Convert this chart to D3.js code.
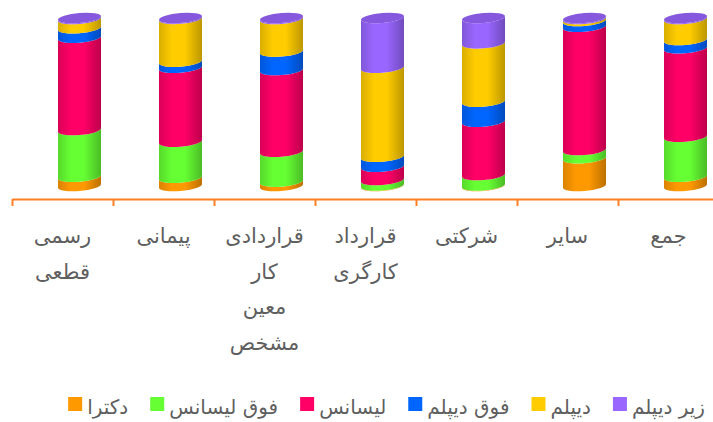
<!DOCTYPE html>
<html>
<head>
<meta charset="utf-8">
<script src="https://cdn.jsdelivr.net/npm/d3@7/dist/d3.min.js"></script>
<style>
  html, body { margin: 0; padding: 0; background: #fff; }
  svg { display: block; font-family: "DejaVu Sans", sans-serif; }
</style>
</head>
<body>
<svg id="chart" width="713" height="422"></svg>
<script>
// Employment types (left to right)
const categories = ["رسمی قطعی", "پیمانی", "قراردادی کار معین مشخص", "قرارداد کارگری", "شرکتی", "سایر", "جمع"];

// Share of each education level per employment type (percent)
const doctorate  = [5.5, 4.9, 2.6, 0.3, 0.3, 16.5, 5.5];   // دکترا
const masters    = [27.8, 21.5, 17.8, 3.3, 6.2, 4.9, 23.8]; // فوق لیسانس
const bachelor   = [55.0, 44.0, 48.6, 7.9, 31.8, 73.4, 52.7]; // لیسانس
const associate  = [5.6, 3.6, 11.0, 5.9, 11.9, 3.4, 4.9];   // فوق دیپلم
const diploma    = [5.5, 25.5, 19.4, 53.0, 34.7, 1.2, 12.5]; // دیپلم
const belowDipl  = [0.6, 0.5, 0.6, 29.6, 15.1, 0.6, 0.6];   // زیر دیپلم

// Series, bottom of the stack first
const seriesNames  = ["دکترا", "فوق لیسانس", "لیسانس", "فوق دیپلم", "دیپلم", "زیر دیپلم"];
const seriesValues = [doctorate, masters, bachelor, associate, diploma, belowDipl];
const seriesColors = ["#ff9900", "#66ff33", "#ff0066", "#0066ff", "#ffcc00", "#9966ff"];

const svg = d3.select("#chart");
const defs = svg.append("defs");

const rows = categories.map((c, i) => {
  const r = { cat: c };
  seriesNames.forEach((s, k) => { r[s] = seriesValues[k][i]; });
  return r;
});
const stacked = d3.stack().keys(seriesNames).offset(d3.stackOffsetExpand)(rows);

const x = d3.scaleBand().domain(categories).range([12, 719]).padding(0);
const y = d3.scaleLinear().domain([0, 1]).range([186, 18]);
const color = d3.scaleOrdinal().domain(seriesNames).range(seriesColors);

const rx = 21.5, ry = 5, depthShift = 17, tilt = -4.5;

// horizontal shading for the cylinder sides
seriesNames.forEach((s, k) => {
  const base = d3.color(seriesColors[k]);
  const g = defs.append("linearGradient").attr("id", "grad" + k)
    .attr("x1", 0).attr("x2", 1).attr("y1", 0).attr("y2", 0);
  g.append("stop").attr("offset", "0%").attr("stop-color", base.darker(0.45));
  g.append("stop").attr("offset", "30%").attr("stop-color", base);
  g.append("stop").attr("offset", "60%").attr("stop-color", base);
  g.append("stop").attr("offset", "100%").attr("stop-color", base.darker(0.85));
});

const cyl = svg.append("g").attr("class", "cylinders")
  .selectAll("g")
  .data(categories)
  .join("g")
  .attr("transform", c => `translate(${x(c) + x.bandwidth() / 2 + depthShift},0) skewY(${tilt})`);

function sidePath(y0, y1) {
  return `M${-rx},${y1} L${-rx},${y0} A${rx},${ry} 0 0 0 ${rx},${y0} L${rx},${y1} A${rx},${ry} 0 0 1 ${-rx},${y1} Z`;
}

stacked.forEach((layer, k) => {
  cyl.append("path")
    .attr("d", (c, i) => sidePath(y(layer[i][0]), y(layer[i][1])))
    .attr("fill", `url(#grad${k})`);
});

// top caps take the colour of the top segment
const topKey = seriesNames.length - 1;
cyl.append("ellipse")
  .attr("cx", 0).attr("cy", (c, i) => y(stacked[topKey][i][1]))
  .attr("rx", rx).attr("ry", ry)
  .attr("fill", d3.color(color(seriesNames[topKey])).darker(0.4));

// x axis with ticks on category boundaries
const xb = d3.scaleLinear().domain([0, categories.length]).range(x.range());
const axis = svg.append("g").attr("transform", "translate(0,199)")
  .call(d3.axisBottom(xb).ticks(categories.length).tickFormat("").tickSizeInner(7).tickSizeOuter(0));
axis.select(".domain").attr("stroke", "#ff7f27").attr("stroke-width", 2);
axis.selectAll(".tick line").attr("stroke", "#ff7f27").attr("stroke-width", 2);

// category labels, one word per line
svg.append("g").selectAll("text")
  .data(categories)
  .join("text")
  .attr("text-anchor", "middle")
  .attr("direction", "rtl")
  .attr("font-size", 21)
  .attr("fill", "#5f5f5f")
  .each(function (c) {
    const t = d3.select(this);
    c.split(" ").forEach((w, j) => {
      t.append("tspan").attr("x", x(c) + x.bandwidth() / 2).attr("y", 243 + j * 35.5).text(w);
    });
  });

// legend, laid out right to left
const legend = svg.append("g").attr("class", "legend");
let cursor = 705;
seriesNames.slice().reverse().forEach(name => {
  const t = legend.append("text")
    .attr("x", cursor).attr("y", 414)
    .attr("text-anchor", "end")
    .attr("direction", "ltr")
    .attr("font-size", 20)
    .attr("fill", "#5f5f5f")
    .text(name);
  const w = t.node().getComputedTextLength();
  legend.append("rect")
    .attr("x", cursor - w - 19).attr("y", 397)
    .attr("width", 14).attr("height", 14)
    .attr("fill", color(name));
  cursor = cursor - w - 19 - 22;
});
</script>
</body>
</html>
